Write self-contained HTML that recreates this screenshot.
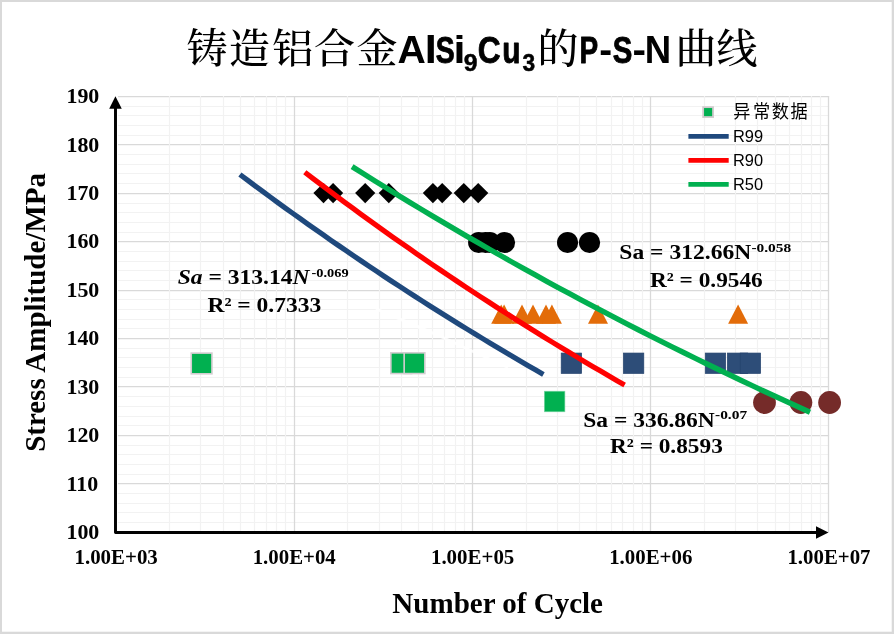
<!DOCTYPE html>
<html lang="zh"><head><meta charset="utf-8"><title>铸造铝合金AlSi9Cu3的P-S-N曲线</title>
<style>html,body{margin:0;padding:0;background:#fff}body{width:894px;height:634px;overflow:hidden}svg{display:block;will-change:transform;opacity:.999}.s{font-family:"Liberation Serif","Noto Serif CJK SC",serif;font-weight:bold;fill:#000}.n{font-family:"Liberation Sans","Noto Sans CJK SC",sans-serif;fill:#000}</style></head><body>
<svg width="894" height="634" viewBox="0 0 894 634">
<rect x="0" y="0" width="894" height="634" fill="#d9d9d9"/>
<rect x="2" y="2" width="889.7" height="629.7" fill="#fff"/>
<path d="M118 522.5H829.1M118 512.5H829.1M118 503.5H829.1M118 493.5H829.1M118 474.5H829.1M118 464.5H829.1M118 454.5H829.1M118 445.5H829.1M118 425.5H829.1M118 416.5H829.1M118 406.5H829.1M118 396.5H829.1M118 377.5H829.1M118 367.5H829.1M118 357.5H829.1M118 348.5H829.1M118 328.5H829.1M118 319.5H829.1M118 309.5H829.1M118 299.5H829.1M118 280.5H829.1M118 270.5H829.1M118 261.5H829.1M118 251.5H829.1M118 232.5H829.1M118 222.5H829.1M118 212.5H829.1M118 203.5H829.1M118 183.5H829.1M118 173.5H829.1M118 164.5H829.1M118 154.5H829.1M118 135.5H829.1M118 125.5H829.1M118 115.5H829.1M118 106.5H829.1" stroke="#f2f2f2" stroke-width="1.15" fill="none"/>
<path d="M118 483.5H829.1M118 435.5H829.1M118 386.5H829.1M118 338.5H829.1M118 290.5H829.1M118 241.5H829.1M118 193.5H829.1M118 144.5H829.1M118 96.5H829.1" stroke="#d9d9d9" stroke-width="1.25" fill="none"/>
<path d="M294.5 95.9V532.217M472.5 95.9V532.217M650.5 95.9V532.217M828.5 95.9V532.217" stroke="#d9d9d9" stroke-width="1.25" fill="none"/>
<path d="M169.5 95.9V532.217M200.5 95.9V532.217M223.5 95.9V532.217M240.5 95.9V532.217M254.5 95.9V532.217M266.5 95.9V532.217M276.5 95.9V532.217M285.5 95.9V532.217M347.5 95.9V532.217M379.5 95.9V532.217M401.5 95.9V532.217M418.5 95.9V532.217M432.5 95.9V532.217M444.5 95.9V532.217M455.5 95.9V532.217M464.5 95.9V532.217M526.5 95.9V532.217M557.5 95.9V532.217M579.5 95.9V532.217M596.5 95.9V532.217M611.5 95.9V532.217M622.5 95.9V532.217M633.5 95.9V532.217M642.5 95.9V532.217M704.5 95.9V532.217M735.5 95.9V532.217M757.5 95.9V532.217M775.5 95.9V532.217M789.5 95.9V532.217M801.5 95.9V532.217M811.5 95.9V532.217M820.5 95.9V532.217" stroke="#f2f2f2" stroke-width="1.15" fill="none"/>
<path d="M376 308.8L420 327.5L444 338L472 351L508 367.5" stroke="#fff" stroke-width="3" fill="none" opacity=".8"/>
<rect x="191.25" y="353.10" width="20.7" height="20.7" fill="#00b050" stroke="#d3cdd0" stroke-width="1.6"/>
<rect x="390.85" y="352.85" width="20.7" height="20.7" fill="#00b050" stroke="#d3cdd0" stroke-width="1.6"/>
<rect x="404.15" y="352.85" width="20.7" height="20.7" fill="#00b050" stroke="#d3cdd0" stroke-width="1.6"/>
<rect x="544.30" y="391.20" width="20.6" height="20.6" fill="#00b050" stroke="#7fd7a7" stroke-width="0.6"/>
<path d="M313.4 193.05L323.5 182.95000000000002L333.6 193.05L323.5 203.15Z" fill="#000"/>
<path d="M323.0 193.05L333.1 182.95000000000002L343.20000000000005 193.05L333.1 203.15Z" fill="#000"/>
<path d="M355.09999999999997 193.05L365.2 182.95000000000002L375.3 193.05L365.2 203.15Z" fill="#000"/>
<path d="M378.7 193.05L388.8 182.95000000000002L398.90000000000003 193.05L388.8 203.15Z" fill="#000"/>
<path d="M422.79999999999995 193.05L432.9 182.95000000000002L443.0 193.05L432.9 203.15Z" fill="#000"/>
<path d="M432.09999999999997 193.05L442.2 182.95000000000002L452.3 193.05L442.2 203.15Z" fill="#000"/>
<path d="M453.7 193.05L463.8 182.95000000000002L473.90000000000003 193.05L463.8 203.15Z" fill="#000"/>
<path d="M468.09999999999997 193.05L478.2 182.95000000000002L488.3 193.05L478.2 203.15Z" fill="#000"/>
<circle cx="478.7" cy="242.5" r="10.6" fill="#000"/>
<circle cx="485.5" cy="242.5" r="10.6" fill="#000"/>
<circle cx="489.9" cy="242.5" r="10.6" fill="#000"/>
<circle cx="504.5" cy="242.5" r="10.6" fill="#000"/>
<circle cx="567.6" cy="242.5" r="10.6" fill="#000"/>
<circle cx="589.55" cy="242.5" r="10.6" fill="#000"/>
<path d="M491.2 323.8L501.2 304.4L511.2 323.8Z" fill="#e36c09"/>
<path d="M494.1 323.8L504.1 304.4L514.1 323.8Z" fill="#e36c09"/>
<path d="M512.0 323.8L522 304.4L532.0 323.8Z" fill="#e36c09"/>
<path d="M523.0 323.8L533 304.4L543.0 323.8Z" fill="#e36c09"/>
<path d="M536.0 323.8L546 304.4L556.0 323.8Z" fill="#e36c09"/>
<path d="M541.9 323.8L551.9 304.4L561.9 323.8Z" fill="#e36c09"/>
<path d="M588.0 323.8L598 304.4L608.0 323.8Z" fill="#e36c09"/>
<path d="M728.1 323.8L738.1 304.4L748.1 323.8Z" fill="#e36c09"/>
<rect x="561.20" y="353.05" width="20.4" height="20.4" fill="#2d4d78" stroke="#26446e" stroke-width="0.7"/>
<rect x="623.40" y="353.05" width="20.4" height="20.4" fill="#2d4d78" stroke="#26446e" stroke-width="0.7"/>
<rect x="705.25" y="353.05" width="20.4" height="20.4" fill="#2d4d78" stroke="#26446e" stroke-width="0.7"/>
<rect x="727.30" y="353.05" width="20.4" height="20.4" fill="#2d4d78" stroke="#26446e" stroke-width="0.7"/>
<rect x="740.20" y="353.05" width="20.4" height="20.4" fill="#2d4d78" stroke="#26446e" stroke-width="0.7"/>
<circle cx="764.5" cy="402.5" r="11.4" fill="#752b29"/>
<circle cx="800.9" cy="402.5" r="11.4" fill="#752b29"/>
<circle cx="829.6" cy="402.5" r="11.4" fill="#752b29"/>
<path d="M239.90 174.50L247.49 180.19L255.07 185.83L262.66 191.44L270.25 197.02L277.84 202.55L285.42 208.05L293.01 213.51L300.60 218.93L308.19 224.31L315.77 229.66L323.36 234.98L330.95 240.26L338.54 245.50L346.13 250.70L353.71 255.88L361.30 261.01L368.89 266.11L376.48 271.18L384.06 276.21L391.65 281.21L399.24 286.18L406.83 291.11L414.41 296.01L422.00 300.87L429.59 305.71L437.17 310.51L444.76 315.27L452.35 320.01L459.94 324.71L467.52 329.39L475.11 334.03L482.70 338.63L490.29 343.21L497.87 347.76L505.46 352.27L513.05 356.76L520.64 361.21L528.22 365.64L535.81 370.03L543.40 374.40" stroke="#1f497d" stroke-width="5.2" fill="none"/>
<path d="M304.80 172.20L312.79 178.31L320.79 184.37L328.78 190.39L336.78 196.37L344.77 202.30L352.77 208.19L360.76 214.04L368.76 219.84L376.76 225.61L384.75 231.33L392.75 237.01L400.74 242.65L408.74 248.24L416.73 253.80L424.73 259.32L432.72 264.80L440.72 270.23L448.71 275.63L456.71 280.99L464.70 286.31L472.70 291.60L480.69 296.84L488.69 302.05L496.68 307.21L504.68 312.34L512.67 317.44L520.66 322.49L528.66 327.52L536.66 332.50L544.65 337.45L552.65 342.36L560.64 347.24L568.64 352.08L576.63 356.88L584.62 361.66L592.62 366.39L600.62 371.09L608.61 375.76L616.61 380.40L624.60 385.00" stroke="#ff0000" stroke-width="5.2" fill="none"/>
<path d="M352.10 166.60L363.55 173.82L375.00 180.97L386.44 188.06L397.89 195.10L409.34 202.07L420.78 208.99L432.23 215.84L443.68 222.64L455.13 229.38L466.58 236.06L478.02 242.69L489.47 249.26L500.92 255.77L512.37 262.23L523.81 268.63L535.26 274.98L546.71 281.28L558.15 287.52L569.60 293.71L581.05 299.85L592.50 305.93L603.95 311.96L615.39 317.95L626.84 323.88L638.29 329.76L649.74 335.59L661.18 341.37L672.63 347.10L684.08 352.78L695.52 358.42L706.97 364.00L718.42 369.54L729.87 375.04L741.31 380.48L752.76 385.88L764.21 391.24L775.66 396.54L787.11 401.81L798.55 407.03L810.00 412.20" stroke="#00b050" stroke-width="5.4" fill="none"/>
<path d="M115.5 107V532.5H817" stroke="#000" stroke-width="2.95" fill="none" stroke-linejoin="round"/>
<path d="M115.45 96.3L121.75 108.7H109.2Z" fill="#000"/>
<path d="M828.5 532.45L816 526.15V538.7Z" fill="#000"/>
<text class="s" transform="translate(66.44,538.97) scale(1.0855,1)" font-size="20.2">100</text>
<text class="s" transform="translate(66.44,490.55) scale(1.0855,1)" font-size="20.2">110</text>
<text class="s" transform="translate(66.44,442.14) scale(1.0855,1)" font-size="20.2">120</text>
<text class="s" transform="translate(66.44,393.73) scale(1.0855,1)" font-size="20.2">130</text>
<text class="s" transform="translate(66.44,345.31) scale(1.0855,1)" font-size="20.2">140</text>
<text class="s" transform="translate(66.44,296.90) scale(1.0855,1)" font-size="20.2">150</text>
<text class="s" transform="translate(66.44,248.49) scale(1.0855,1)" font-size="20.2">160</text>
<text class="s" transform="translate(66.44,200.08) scale(1.0855,1)" font-size="20.2">170</text>
<text class="s" transform="translate(66.44,151.66) scale(1.0855,1)" font-size="20.2">180</text>
<text class="s" transform="translate(66.44,103.25) scale(1.0855,1)" font-size="20.2">190</text>
<text class="s" transform="translate(74.48,564.1) scale(1.0355,1)" font-size="20.2">1.00E+03</text>
<text class="s" transform="translate(252.71,564.1) scale(1.0313,1)" font-size="20.2">1.00E+04</text>
<text class="s" transform="translate(430.93,564.1) scale(1.0361,1)" font-size="20.2">1.00E+05</text>
<text class="s" transform="translate(609.17,564.1) scale(1.0342,1)" font-size="20.2">1.00E+06</text>
<text class="s" transform="translate(787.40,564.1) scale(1.0329,1)" font-size="20.2">1.00E+07</text>
<text class="s" transform="translate(392.35,612.8) scale(1.0114,1)" font-size="28.7">Number of Cycle</text>
<text class="s" transform="translate(45.2,450.3) rotate(-90) translate(-1.54,0) scale(1.0103,1)" font-size="28.7">Stress Amplitude/MPa</text>
<text fill="#000"><tspan x="186.5 229 272.3 313.9 356.5" y="63" font-size="41" style="font-family:'Liberation Serif','Noto Serif CJK SC',serif;font-weight:500">铸造铝合金</tspan><tspan x="397.62" y="63" font-size="38.00" textLength="28.31" lengthAdjust="spacingAndGlyphs" style="font-family:'Liberation Sans','Noto Serif CJK SC',serif;font-weight:bold">A</tspan><tspan x="424.44" y="63" font-size="38.00" textLength="12.55" lengthAdjust="spacingAndGlyphs" style="font-family:'Liberation Sans','Noto Serif CJK SC',serif;font-weight:bold">l</tspan><tspan x="435.83" y="62.55" font-size="36.74" textLength="18.93" lengthAdjust="spacingAndGlyphs" style="font-family:'Liberation Sans','Noto Serif CJK SC',serif;font-weight:bold" stroke="#000" stroke-width="0.9" stroke-linejoin="round">S</tspan><tspan x="453.60" y="63" font-size="38.00" textLength="11.95" lengthAdjust="spacingAndGlyphs" style="font-family:'Liberation Sans','Noto Serif CJK SC',serif;font-weight:bold">i</tspan><tspan x="463.69" y="70.75" font-size="24.30" textLength="13.78" lengthAdjust="spacingAndGlyphs" style="font-family:'Liberation Sans','Noto Serif CJK SC',serif;font-weight:bold" stroke="#000" stroke-width="0.5" stroke-linejoin="round">9</tspan><tspan x="477.70" y="62.6" font-size="36.88" textLength="22.86" lengthAdjust="spacingAndGlyphs" style="font-family:'Liberation Sans','Noto Serif CJK SC',serif;font-weight:bold" stroke="#000" stroke-width="0.8" stroke-linejoin="round">C</tspan><tspan x="502.20" y="62.55" font-size="36.74" textLength="18.21" lengthAdjust="spacingAndGlyphs" style="font-family:'Liberation Sans','Noto Serif CJK SC',serif;font-weight:bold" stroke="#000" stroke-width="0.9" stroke-linejoin="round">u</tspan><tspan x="522.53" y="70.75" font-size="24.30" textLength="12.64" lengthAdjust="spacingAndGlyphs" style="font-family:'Liberation Sans','Noto Serif CJK SC',serif;font-weight:bold" stroke="#000" stroke-width="0.5" stroke-linejoin="round">3</tspan><tspan x="537.5" y="63" font-size="41" style="font-family:'Liberation Serif','Noto Serif CJK SC',serif;font-weight:500">的</tspan><tspan x="579.58" y="62.55" font-size="36.74" textLength="18.62" lengthAdjust="spacingAndGlyphs" style="font-family:'Liberation Sans','Noto Serif CJK SC',serif;font-weight:bold" stroke="#000" stroke-width="0.9" stroke-linejoin="round">P</tspan><tspan x="599.19" y="63" font-size="38.00" textLength="12.85" lengthAdjust="spacingAndGlyphs" style="font-family:'Liberation Sans','Noto Serif CJK SC',serif;font-weight:bold">-</tspan><tspan x="612.80" y="62.55" font-size="36.74" textLength="19.59" lengthAdjust="spacingAndGlyphs" style="font-family:'Liberation Sans','Noto Serif CJK SC',serif;font-weight:bold" stroke="#000" stroke-width="0.9" stroke-linejoin="round">S</tspan><tspan x="632.62" y="63" font-size="38.00" textLength="13.51" lengthAdjust="spacingAndGlyphs" style="font-family:'Liberation Sans','Noto Serif CJK SC',serif;font-weight:bold">-</tspan><tspan x="644.75" y="63" font-size="38.00" textLength="26.41" lengthAdjust="spacingAndGlyphs" style="font-family:'Liberation Sans','Noto Serif CJK SC',serif;font-weight:bold">N</tspan><tspan x="675.5 716.5" y="63" font-size="41" style="font-family:'Liberation Serif','Noto Serif CJK SC',serif;font-weight:500">曲线</tspan></text>
<rect x="703.15" y="107.15" width="9.9" height="9.9" fill="#00b050" stroke="#d0cbcd" stroke-width="1.8"/>
<text class="n" transform="translate(0,118.2) scale(1,1.075)" x="733.2 753 771.8 790.6" y="0" font-size="17.2">异常数据</text>
<path d="M688.4 136.4H728.7" stroke="#1f497d" stroke-width="4.6"/>
<text class="n" transform="translate(732.95,142.1) scale(1.0430,1)" font-size="15.8">R99</text>
<path d="M688.4 160.4H728.7" stroke="#ff0000" stroke-width="4.6"/>
<text class="n" transform="translate(732.95,166.1) scale(1.0380,1)" font-size="15.8">R90</text>
<path d="M688.4 184.4H728.7" stroke="#00b050" stroke-width="4.6"/>
<text class="n" transform="translate(732.95,190.1) scale(1.0380,1)" font-size="15.8">R50</text>
<text class="s"><tspan x="177.67" y="284.3" font-size="21.3" textLength="131.92" lengthAdjust="spacingAndGlyphs"><tspan font-style="italic">Sa</tspan> = 313.14<tspan font-style="italic">N</tspan></tspan><tspan x="311.47" y="277.3" font-size="13.2" textLength="37.15" lengthAdjust="spacingAndGlyphs">-0.069</tspan></text>
<text class="s"><tspan x="207.40" y="311.7" font-size="21.3" textLength="113.91" lengthAdjust="spacingAndGlyphs">R² = 0.7333</tspan></text>
<text class="s"><tspan x="619.35" y="259.3" font-size="21.3" textLength="131.86" lengthAdjust="spacingAndGlyphs">Sa = 312.66N</tspan><tspan x="751.44" y="252.3" font-size="13.2" textLength="39.78" lengthAdjust="spacingAndGlyphs">-0.058</tspan></text>
<text class="s"><tspan x="650.00" y="286.7" font-size="21.3" textLength="112.68" lengthAdjust="spacingAndGlyphs">R² = 0.9546</tspan></text>
<text class="s"><tspan x="583.25" y="426.5" font-size="21.3" textLength="131.56" lengthAdjust="spacingAndGlyphs">Sa = 336.86N</tspan><tspan x="715.03" y="419.4" font-size="13.2" textLength="32.14" lengthAdjust="spacingAndGlyphs">-0.07</tspan></text>
<text class="s"><tspan x="610.00" y="453.4" font-size="21.3" textLength="112.79" lengthAdjust="spacingAndGlyphs">R² = 0.8593</tspan></text>
</svg></body></html>
